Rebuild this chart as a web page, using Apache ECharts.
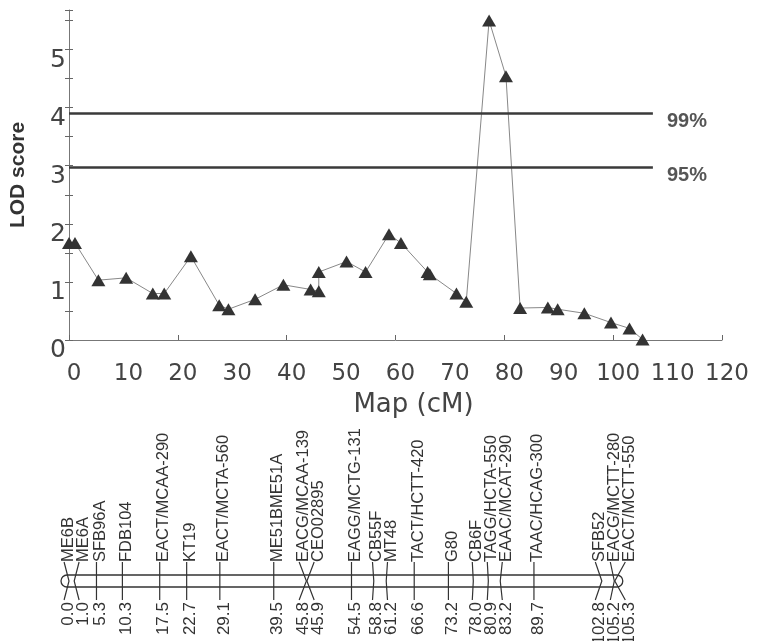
<!DOCTYPE html>
<html>
<head>
<meta charset="utf-8">
<title>LOD score</title>
<script src="https://cdn.jsdelivr.net/npm/echarts@6/dist/echarts.min.js"></script>
<style>
  html, body { margin: 0; padding: 0; background: #fff; }
  #chart { width: 762px; height: 641px; }
</style>
</head>
<body>
<div id="chart"></div>
<script>
// LOD profile
const lodPos = [0, 1.1, 5.4, 10.5, 15.4, 17.5, 22.4, 27.6, 29.3, 34.2, 39.4, 44.4, 45.9, 45.9, 51.0, 54.5,
  58.8, 61.0, 65.9, 66.3, 71.2, 73.0, 77.2, 80.3, 82.9, 88.0, 89.8, 94.7, 99.6, 103.0, 105.4]
const lodScore = [1.67, 1.67, 1.03, 1.07, 0.80, 0.80, 1.44, 0.60, 0.53, 0.70, 0.95, 0.87, 0.84, 1.17, 1.35, 1.17,
  1.82, 1.67, 1.17, 1.13, 0.80, 0.66, 5.50, 4.54, 0.55, 0.56, 0.53, 0.46, 0.30, 0.20, 0.01]

// significance thresholds
const thresholdValues = [3.91, 2.98]
const thresholdNames = ['99%', '95%']
const thresholdEnd = 107.3

// linkage map
const markerNames = ['ME6B', 'ME6A', 'SFB96A', 'FDB104', 'EACT/MCAA-290', 'KT19', 'EACT/MCTA-560', 'ME51BME51A',
  'EACG/MCAA-139', 'CEO02895', 'EAGG/MCTG-131', 'CB55F', 'MT48', 'TACT/HCTT-420', 'G80', 'CB6F',
  'TAGG/HCTA-550', 'EAAC/MCAT-290', 'TAAC/HCAG-300', 'SFB52', 'EACG/MCTT-280', 'EACT/MCTT-550']
const markerPos = [0.0, 1.0, 5.3, 10.3, 17.5, 22.7, 29.1, 39.5, 45.8, 45.9, 54.5, 58.8, 61.2, 66.6, 73.2, 78.0,
  80.9, 83.2, 89.7, 102.8, 105.2, 105.3]

const FONT = '"Liberation Sans", Arial, sans-serif'
const WIDE = '"DejaVu Sans", sans-serif'
const GAP = 15

const chartInstance = echarts.init(document.getElementById('chart'))

// spread the marker labels so they do not overlap
function layoutSlots (api) {
  const desired = markerPos.map(p => api.coord([p, 0])[0] + 4)
  const groups = desired.map(d => ({ n: 1, sum: d }))
  let merged = true
  while (merged) {
    merged = false
    for (let k = 0; k < groups.length - 1; k++) {
      const a = groups[k]
      const b = groups[k + 1]
      const aLast = a.sum / a.n + (a.n - 1) * GAP / 2
      const bFirst = b.sum / b.n - (b.n - 1) * GAP / 2
      if (bFirst - aLast < GAP) {
        a.n += b.n
        a.sum += b.sum
        groups.splice(k + 1, 1)
        merged = true
        break
      }
    }
  }
  const slots = []
  groups.forEach(g => {
    const first = g.sum / g.n - (g.n - 1) * GAP / 2
    for (let i = 0; i < g.n; i++) slots.push(first + i * GAP)
  })
  return slots
}

const option = {
  backgroundColor: '#fff',
  animation: false,
  grid: [
    { left: 68, right: 40, top: 10, height: 330 },
    { left: 69, right: 71, top: 575, height: 12 }
  ],
  xAxis: [
    {
      gridIndex: 0,
      type: 'value',
      min: 0,
      max: 120,
      interval: 10,
      position: 'bottom',
      name: 'Map (cM)',
      nameLocation: 'middle',
      nameGap: 52,
      nameTextStyle: { fontFamily: WIDE, fontSize: 26, color: '#444', padding: [0, 0, 0, 36] },
      axisLine: { lineStyle: { color: '#777', width: 1 } },
      axisTick: { show: false },
      splitLine: { show: false },
      axisLabel: { fontFamily: WIDE, fontSize: 23, color: '#444', margin: 23, padding: [0, 0, 0, 10] }
    },
    {
      gridIndex: 0,
      type: 'value',
      min: 0,
      max: 120,
      interval: 20,
      position: 'bottom',
      axisLine: { show: false },
      axisTick: { inside: true, length: 5, lineStyle: { color: '#666' } },
      axisLabel: { show: false },
      splitLine: { show: false }
    },
    { gridIndex: 1, type: 'value', min: 0, max: 120, show: false }
  ],
  yAxis: [
    {
      gridIndex: 0,
      type: 'value',
      min: 0,
      max: 5.68,
      interval: 0.5,
      position: 'left',
      name: 'LOD score',
      nameLocation: 'middle',
      nameGap: 40,
      nameTextStyle: { fontFamily: FONT, fontSize: 21, fontWeight: 'bold', color: '#333' },
      axisLine: { lineStyle: { color: '#777', width: 1 } },
      axisTick: { length: 4, lineStyle: { color: '#666' } },
      splitLine: { show: false },
      axisLabel: {
        fontFamily: WIDE,
        fontSize: 25,
        color: '#444',
        margin: 3,
        verticalAlign: 'top',
        padding: [-2, 0, 0, 0],
        formatter: v => (Number.isInteger(v) ? String(v) : '')
      }
    },
    {
      gridIndex: 0,
      type: 'value',
      min: 0,
      max: 5.68,
      interval: 0.5,
      position: 'left',
      axisLine: { show: false },
      axisTick: { inside: true, length: 4, lineStyle: { color: '#666' } },
      axisLabel: { show: false },
      splitLine: { show: false }
    },
    { gridIndex: 1, type: 'value', min: 0, max: 1, show: false }
  ],
  series: [
    {
      type: 'line',
      xAxisIndex: 0,
      yAxisIndex: 0,
      data: lodPos.map((x, i) => [x, lodScore[i]]),
      symbol: 'triangle',
      symbolSize: [14, 12],
      clip: false,
      lineStyle: { color: '#888', width: 1 },
      itemStyle: { color: '#333' },
      markLine: {
        silent: true,
        symbol: 'none',
        animation: false,
        lineStyle: { color: '#3a3a3a', width: 2.5, type: 'solid' },
        label: {
          position: 'end',
          distance: 14,
          // blank first line pushes the text a little below the line
          formatter: '\n{b}',
          lineHeight: 17,
          fontFamily: FONT,
          fontSize: 20,
          fontWeight: 'bold',
          color: '#555'
        },
        data: thresholdValues.map((v, i) => [
          { coord: [0, v], name: thresholdNames[i] },
          { coord: [thresholdEnd, v] }
        ])
      }
    },
    {
      // chromosome bar
      type: 'custom',
      xAxisIndex: 2,
      yAxisIndex: 2,
      silent: true,
      clip: false,
      data: [[markerPos[0], markerPos[markerPos.length - 1]]],
      renderItem (params, api) {
        const x0 = api.coord([api.value(0), 0])[0]
        const x1 = api.coord([api.value(1), 0])[0]
        const top = api.coord([0, 1])[1]
        const bottom = api.coord([0, 0])[1]
        return {
          type: 'rect',
          shape: { x: x0 - 8, y: top, width: x1 - x0 + 16, height: bottom - top, r: (bottom - top) / 2 },
          style: { fill: 'none', stroke: '#333', lineWidth: 1.3 }
        }
      }
    },
    {
      // markers
      type: 'custom',
      xAxisIndex: 2,
      yAxisIndex: 2,
      silent: true,
      clip: false,
      data: markerPos.map(p => [p, 0]),
      renderItem (params, api) {
        const i = params.dataIndex
        const slots = layoutSlots(api)
        const x = api.coord([api.value(0), 0])[0]
        const top = api.coord([0, 1])[1]
        const bottom = api.coord([0, 0])[1]
        const mid = (top + bottom) / 2
        const lx = slots[i] - 4
        return {
          type: 'group',
          children: [
            {
              type: 'polyline',
              shape: { points: [[lx, top - 13], [x, mid], [lx, bottom + 13]] },
              style: { fill: 'none', stroke: '#333', lineWidth: 1.2 }
            },
            {
              type: 'text',
              x: slots[i],
              y: top - 13,
              rotation: Math.PI / 2,
              style: {
                text: markerNames[i],
                font: '16.5px ' + FONT,
                fill: '#333',
                align: 'left',
                verticalAlign: 'middle',
                textAlign: 'left',
                textVerticalAlign: 'middle'
              }
            },
            {
              type: 'text',
              x: slots[i],
              y: bottom + 15,
              rotation: Math.PI / 2,
              style: {
                text: markerPos[i].toFixed(1),
                font: '17px ' + FONT,
                fill: '#333',
                align: 'right',
                verticalAlign: 'middle',
                textAlign: 'right',
                textVerticalAlign: 'middle'
              }
            }
          ]
        }
      }
    }
  ]
}

chartInstance.setOption(option)
</script>
</body>
</html>
